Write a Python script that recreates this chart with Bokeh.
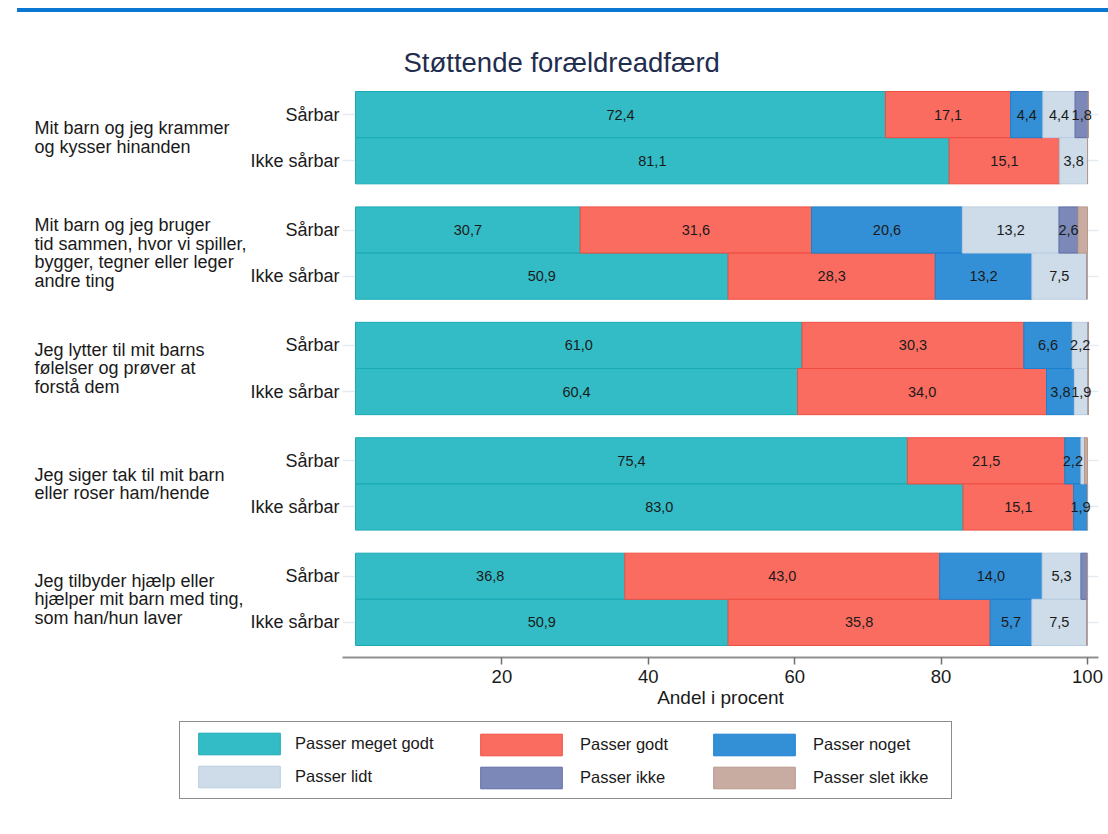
from bokeh.plotting import figure
from bokeh.models import (ColumnDataSource, Range1d, FixedTicker, Legend, LegendItem, Div)
from bokeh.layouts import column, row
from bokeh.core.properties import value
from bokeh.embed import file_html
from bokeh.resources import INLINE

# ---------------- data ----------------
title_text = "Støttende forældreadfærd"
questions = [
    "Mit barn og jeg krammer\nog kysser hinanden",
    "Mit barn og jeg bruger\ntid sammen, hvor vi spiller,\nbygger, tegner eller leger\nandre ting",
    "Jeg lytter til mit barns\nfølelser og prøver at\nforstå dem",
    "Jeg siger tak til mit barn\neller roser ham/hende",
    "Jeg tilbyder hjælp eller\nhjælper mit barn med ting,\nsom han/hun laver",
]
groups = ["Sårbar", "Ikke sårbar"]
categories = ["Passer meget godt", "Passer godt", "Passer noget",
              "Passer lidt", "Passer ikke", "Passer slet ikke"]
# rows: q1 Sårbar, q1 Ikke sårbar, q2 Sårbar, q2 Ikke sårbar, ...
meget_godt = [72.4, 81.1, 30.7, 50.9, 61.0, 60.4, 75.4, 83.0, 36.8, 50.9]
godt       = [17.1, 15.1, 31.6, 28.3, 30.3, 34.0, 21.5, 15.1, 43.0, 35.8]
noget      = [4.4, 0.0, 20.6, 13.2, 6.6, 3.8, 2.2, 1.9, 14.0, 5.7]
lidt       = [4.4, 3.8, 13.2, 7.5, 2.2, 1.9, 0.5, 0.0, 5.3, 7.5]
ikke       = [1.8, 0.0, 2.6, 0.0, 0.0, 0.0, 0.0, 0.0, 0.9, 0.0]
slet_ikke  = [0.0, 0.0, 1.3, 0.0, 0.0, 0.0, 0.4, 0.0, 0.0, 0.0]
x_ticks = [20, 40, 60, 80, 100]
x_title = "Andel i procent"

series = [meget_godt, godt, noget, lidt, ikke, slet_ikke]
fill_colors = ["#33BCC6", "#FA6C60", "#3490D6", "#CDDCE8", "#7C89B8", "#C8ACA2"]
line_colors = ["#1AAAB5", "#EE4E42", "#1C7FCF", "#BACDE0", "#5F6DA6", "#B8978B"]

FONT = "Liberation Sans"
TXT = "#1a1a1a"

# ---------------- positions ----------------
n_rows = len(meget_godt)
row_y = [(r // 2) * 2.5 + (r % 2) + 0.5 for r in range(n_rows)]
group_y = [g * 2.5 + 1.0 for g in range(len(questions))]

W_TOTAL = 1104
W_LEFT = 246
TOP, BOTTOM = 68, 55
H_MAIN = 695
y_range = Range1d(12.26, -0.13)

# ---------------- main chart ----------------
p = figure(width=W_TOTAL - W_LEFT, height=H_MAIN, output_backend="svg", toolbar_location=None,
           x_range=Range1d(-1.776, 101.5), y_range=y_range,
           min_border_left=96, min_border_right=6, min_border_top=TOP,
           min_border_bottom=BOTTOM)
p.outline_line_color = None

renderers = []
sources = []
lefts = [0.0] * n_rows
lab_x, lab_y, lab_t = [], [], []
for k, vals in enumerate(series):
    rights = [l + v for l, v in zip(lefts, vals)]
    src = ColumnDataSource(dict(y=row_y, left=list(lefts), right=rights))
    sources.append(src)
    r = p.hbar(y="y", left="left", right="right", height=1.0, source=src,
               fill_color=fill_colors[k], line_color=line_colors[k], line_width=1)
    renderers.append(r)
    for i, v in enumerate(vals):
        if v >= 1.5:
            lab_x.append(lefts[i] + v / 2)
            lab_y.append(row_y[i])
            lab_t.append(f"{v:.1f}".replace(".", ","))
    lefts = rights

lsrc = ColumnDataSource(dict(x=lab_x, y=lab_y, t=lab_t))
p.text(x="x", y="y", text="t", source=lsrc, text_font=value(FONT),
       text_font_size="14.5px", text_align="center", text_baseline="middle",
       text_color=TXT)

p.xaxis.ticker = FixedTicker(ticks=x_ticks)
p.xaxis.axis_label = x_title
p.xaxis.axis_label_text_font = FONT
p.xaxis.axis_label_text_font_size = "19px"
p.xaxis.axis_label_text_font_style = "normal"
p.xaxis.axis_label_text_color = TXT
p.xaxis.axis_label_standoff = 1
p.xaxis.major_label_text_font = FONT
p.xaxis.major_label_text_font_size = "18.5px"
p.xaxis.major_label_text_color = TXT
p.xaxis.major_label_standoff = 5
p.xaxis.axis_line_color = "#8f8f8f"
p.xaxis.axis_line_width = 2
p.xaxis.major_tick_line_color = "#6f6f6f"
p.xaxis.major_tick_line_width = 1.5
p.xaxis.major_tick_out = 7
p.xaxis.major_tick_in = 0
p.xaxis.minor_tick_line_color = None

p.yaxis.ticker = FixedTicker(ticks=row_y)
p.yaxis.major_label_overrides = {y: groups[i % 2] for i, y in enumerate(row_y)}
p.yaxis.major_label_text_font = FONT
p.yaxis.major_label_text_font_size = "18px"
p.yaxis.major_label_text_color = TXT
p.yaxis.major_label_standoff = 3
p.yaxis.axis_line_color = None
p.yaxis.major_tick_line_color = None
p.yaxis.minor_tick_line_color = None
p.yaxis.major_tick_out = 0
p.yaxis.major_tick_in = 0

p.xgrid.visible = False
p.ygrid.grid_line_color = "#e3eaf0"
p.ygrid.grid_line_width = 1.5

p.title.text = title_text
p.title.align = "left"
p.title.offset = 61
p.title.text_font = FONT
p.title.text_font_size = "27.5px"
p.title.text_font_style = "normal"
p.title.text_color = "#1F2D4E"
p.title.standoff = 15

# ---------------- group labels (left column, shares y scale) ----------------
pl = figure(width=W_LEFT, height=H_MAIN, output_backend="svg", toolbar_location=None,
            x_range=Range1d(0, W_LEFT), y_range=y_range,
            x_axis_location=None, y_axis_location=None,
            min_border_left=0, min_border_right=0, min_border_top=TOP,
            min_border_bottom=BOTTOM)
pl.outline_line_color = None
pl.grid.visible = False
gsrc = ColumnDataSource(dict(y=group_y, t=questions, x=[34] * len(questions)))
pl.text(x="x", y="y", text="t", source=gsrc, text_font=value(FONT),
        text_font_size="18px", text_align="left", text_baseline="middle",
        text_color=TXT, text_line_height=0.92)

# ---------------- legend strip ----------------
pg = figure(width=W_TOTAL, height=114, output_backend="svg", toolbar_location=None,
            x_range=Range1d(0, 1), y_range=Range1d(100, 101),
            x_axis_location=None, y_axis_location=None,
            min_border_left=0, min_border_right=0, min_border_top=0, min_border_bottom=0)
pg.outline_line_color = None
pg.grid.visible = False
leg_renderers = []
for k in range(len(categories)):
    # same data as the chart; this strip's y-range keeps them out of view (legend swatches only)
    leg_renderers.append(pg.hbar(y="y", left="left", right="right", height=1.0,
                                 source=sources[k], fill_color=fill_colors[k],
                                 line_color=line_colors[k], line_width=1))

def make_legend(idx, loc, border, label_width, standoff):
    lg = Legend(items=[LegendItem(label=categories[i], renderers=[leg_renderers[i]]) for i in idx],
                location=loc, orientation="vertical",
                glyph_width=102, glyph_height=27, label_standoff=standoff,
                label_width=label_width, label_height=20, spacing=6, padding=8, margin=0,
                label_text_font=FONT, label_text_font_size="16.5px",
                label_text_color=TXT)
    if border:
        lg.border_line_color = "#1a1a1a"
        lg.border_line_width = 1.5
        lg.background_fill_color = "white"
        lg.background_fill_alpha = 1.0
    else:
        lg.border_line_color = None
        lg.background_fill_alpha = 0.0
    return lg

pg.add_layout(make_legend([0, 3], (179, 27), True, 648, 5))
pg.add_layout(make_legend([1, 4], (470, 35), False, 20, 8))
pg.add_layout(make_legend([2, 5], (703, 35), False, 20, 8))

bar = Div(text="", width=W_TOTAL, height=7,
          styles={"background": "linear-gradient(to bottom, #ffffff 3px, rgba(255,255,255,0) 3px), "
                                "linear-gradient(to right, #ffffff 12px, #0A78D2 12px)"})

layout = column(bar, row(pl, p), pg)
open("out.html", "w").write(file_html(layout, INLINE))
